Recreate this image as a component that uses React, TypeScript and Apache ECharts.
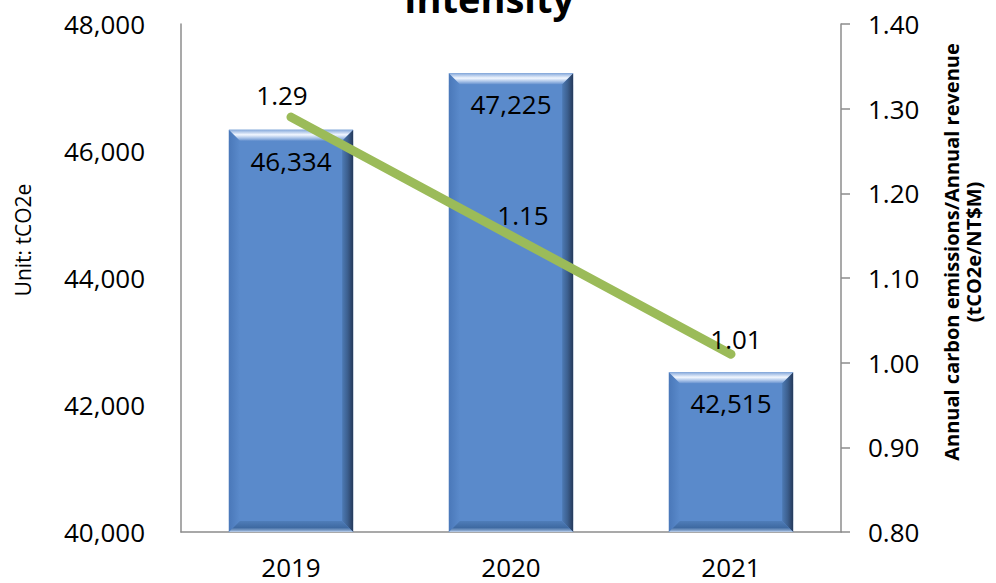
import React, { useEffect, useRef } from 'react';
import * as echarts from 'echarts';

// Annual carbon emissions (bars, left axis) and intensity (line, right axis)
const years = ['2019', '2020', '2021'];
const emissions = [46334, 47225, 42515];
const intensity = [1.29, 1.15, 1.01];
const intensityLabelOffsets = [[-9, -4], [12, -2], [5, 3]];

const leftTicks = { min: 40000, max: 48000, interval: 2000 };
const rightTicks = { min: 0.8, max: 1.4, interval: 0.1 };

const FONT = '"Open Sans", "Noto Sans", sans-serif';
const AXIS_GRAY = '#8c8c8c';

const fmtThousands = (v: number) => v.toLocaleString('en-US');

function renderBevelBar(params: any, api: any) {
  const cat = api.value(0);
  const val = api.value(1);
  const topPt = api.coord([cat, val]);
  const basePt = api.coord([cat, leftTicks.min]);
  const bandW = api.size([1, 0])[0];
  const w = bandW * 0.565;
  const left = topPt[0] - w / 2;
  const right = left + w;
  const top = topPt[1];
  const bottom = basePt[1];
  const b = 11;
  const G = echarts.graphic.LinearGradient;

  return {
    type: 'group',
    children: [
      {
        type: 'rect',
        shape: { x: left, y: top, width: w, height: bottom - top },
        style: { fill: '#5a8acb' },
      },
      {
        type: 'polygon',
        shape: {
          points: [[left, top], [left + b, top + b], [left + b, bottom - b], [left, bottom]],
        },
        style: {
          fill: new G(0, 0, 1, 0, [
            { offset: 0, color: '#4a78b9' },
            { offset: 1, color: '#5a8acb' },
          ]),
        },
      },
      {
        type: 'polygon',
        shape: {
          points: [[right, top], [right, bottom], [right - b, bottom - b], [right - b, top + b]],
        },
        style: {
          fill: new G(0, 0, 1, 0, [
            { offset: 0, color: '#4d7ab4' },
            { offset: 0.5, color: '#3c5f8e' },
            { offset: 1, color: '#25395a' },
          ]),
        },
      },
      {
        type: 'polygon',
        shape: {
          points: [[left, bottom], [right, bottom], [right - b, bottom - b], [left + b, bottom - b]],
        },
        style: {
          fill: new G(0, 0, 0, 1, [
            { offset: 0, color: '#4f7db9' },
            { offset: 0.6, color: '#3f6aa2' },
            { offset: 0.85, color: '#7f9fc9' },
            { offset: 1, color: '#c4d6ee' },
          ]),
        },
      },
      {
        type: 'polygon',
        shape: {
          points: [[left, top], [right, top], [right - b, top + b], [left + b, top + b]],
        },
        style: {
          fill: new G(0, 0, 0, 1, [
            { offset: 0, color: '#86a9db' },
            { offset: 0.45, color: '#f2f7ff' },
            { offset: 0.75, color: '#a9c3e8' },
            { offset: 1, color: '#6893d0' },
          ]),
        },
      },
      {
        type: 'text',
        style: {
          text: fmtThousands(val),
          x: (left + right) / 2,
          y: top + 31,
          align: 'center',
          verticalAlign: 'middle',
          font: `26px ${FONT}`,
          fill: '#000000',
        },
      },
    ],
  };
}

export default function App() {
  const ref = useRef<HTMLDivElement>(null);

  useEffect(() => {
    document.body.style.margin = '0';
    if (!ref.current) return;
    const chart = echarts.init(ref.current, undefined, { renderer: 'svg' });

    chart.setOption({
      animation: false,
      backgroundColor: '#ffffff',
      textStyle: { fontFamily: FONT },
      grid: {
        left: 181,
        right: 155,
        top: 24,
        bottom: 51,
        containLabel: false,
        outerBoundsMode: 'none',
      },
      graphic: [
        {
          type: 'text',
          x: 489,
          y: -2,
          style: {
            text: 'Intensity',
            align: 'center',
            verticalAlign: 'middle',
            font: `bold 38px ${FONT}`,
            fill: '#000000',
          },
        },
        {
          type: 'text',
          x: 23,
          y: 240,
          rotation: Math.PI / 2,
          style: {
            text: 'Unit: tCO2e',
            align: 'center',
            verticalAlign: 'middle',
            font: `21px ${FONT}`,
            fill: '#000000',
          },
        },
        {
          type: 'text',
          x: 962,
          y: 252,
          rotation: Math.PI / 2,
          style: {
            text: 'Annual carbon emissions/Annual revenue\n(tCO2e/NT$M)',
            align: 'center',
            verticalAlign: 'middle',
            lineHeight: 22,
            font: `bold 20px ${FONT}`,
            fill: '#000000',
          },
        },
      ],
      xAxis: {
        type: 'category',
        data: years,
        axisTick: { show: false },
        axisLine: { lineStyle: { color: AXIS_GRAY, width: 1.5 } },
        axisLabel: { fontSize: 26, color: '#000', margin: 22, fontFamily: FONT },
      },
      yAxis: [
        {
          type: 'value',
          min: leftTicks.min,
          max: leftTicks.max,
          interval: leftTicks.interval,
          splitLine: { show: false },
          axisTick: { show: false },
          axisLine: { show: true, lineStyle: { color: AXIS_GRAY, width: 1.5 } },
          axisLabel: {
            fontSize: 26,
            color: '#000',
            margin: 36,
            fontFamily: FONT,
            formatter: (v: number) => fmtThousands(v),
          },
        },
        {
          type: 'value',
          position: 'right',
          min: rightTicks.min,
          max: rightTicks.max,
          interval: rightTicks.interval,
          splitLine: { show: false },
          axisTick: { show: true, length: 9, lineStyle: { color: AXIS_GRAY, width: 1.5 } },
          axisLine: { show: true, lineStyle: { color: AXIS_GRAY, width: 1.5 } },
          axisLabel: {
            fontSize: 26,
            color: '#000',
            margin: 27,
            fontFamily: FONT,
            formatter: (v: number) => v.toFixed(2),
          },
        },
      ],
      series: [
        {
          type: 'custom',
          name: 'Emissions',
          xAxisIndex: 0,
          yAxisIndex: 0,
          data: emissions.map((v, i) => [i, v]),
          encode: { x: 0, y: 1 },
          renderItem: renderBevelBar,
          z: 2,
        },
        {
          type: 'line',
          name: 'Intensity',
          yAxisIndex: 1,
          data: intensity.map((v, i) => ({
            value: v,
            label: { offset: intensityLabelOffsets[i] },
          })),
          symbol: 'circle',
          symbolSize: 1,
          showSymbol: true,
          itemStyle: { color: 'rgba(0,0,0,0)' },
          lineStyle: { color: '#9bbb59', width: 9, cap: 'round' },
          label: {
            show: true,
            position: 'top',
            distance: 5,
            fontSize: 26,
            color: '#000',
            fontFamily: FONT,
            formatter: (p: any) => Number(p.value).toFixed(2),
          },
          z: 5,
        },
      ],
    });

    return () => chart.dispose();
  }, []);

  return <div ref={ref} style={{ width: 996, height: 583 }} />;
}
